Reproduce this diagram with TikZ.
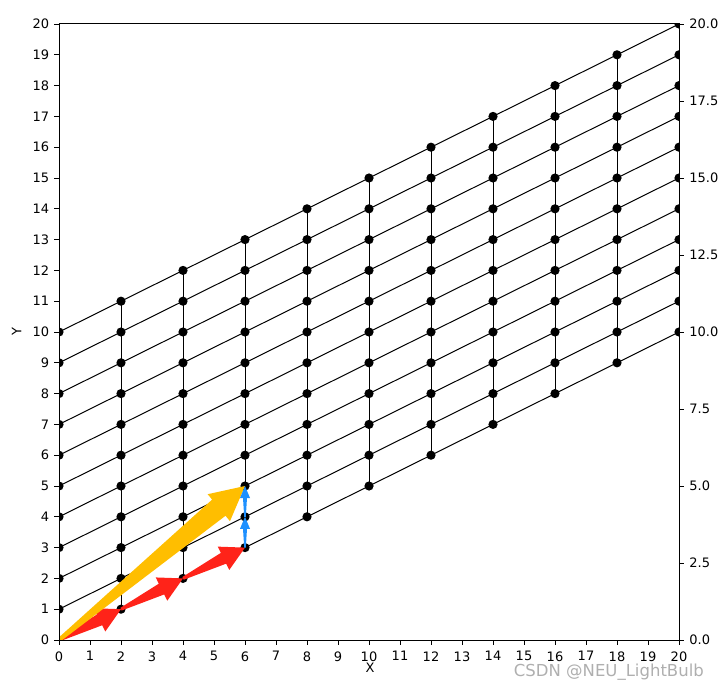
\documentclass[tikz,border=0pt]{standalone}
\usepackage{fontspec}
\setmainfont{DejaVu Sans}
\usetikzlibrary{calc}
\definecolor{arrred}{RGB}{255,35,25}
\definecolor{arrorange}{RGB}{255,190,0}
\definecolor{arrblue}{RGB}{30,144,255}
\definecolor{wmgray}{RGB}{175,175,175}
% #1 colour, #2 from, #3 to, #4 head length, #5 head half width, #6 tail half width at head, #7 tail half width at start
\newcommand\wedgearrow[7]{%
  \coordinate (wj) at ($(#3)!#4!(#2)$);
  \fill[#1] ($(#2)!#7!90:(#3)$) -- ($(wj)!#6!90:(#3)$) -- ($(wj)!#5!90:(#3)$) -- (#3)
    -- ($(wj)!#5!-90:(#3)$) -- ($(wj)!#6!-90:(#3)$) -- ($(#2)!#7!-90:(#3)$) -- cycle;}
\begin{document}
\begin{tikzpicture}[x=1pt,y=1pt,
  latline/.style={line width=1pt, black},
  dotstyle/.style={fill=black},
  ticklab/.style={font=\fontsize{13}{15}\selectfont, inner sep=0pt},
  tickline/.style={line width=0.9pt},
  axlab/.style={font=\fontsize{13}{15}\selectfont, inner sep=0pt}]
\useasboundingbox (0,0) rectangle (719,689);
\begin{scope}[shift={(59,49)}, x=31pt, y=30.8pt]
  \foreach \i in {0,...,10} {\foreach \k in {0,...,10} {\coordinate (p-\i-\k) at ({2*\i},{\i+\k});}}
  \begin{scope}
    \clip (0,0) rectangle (20,20);
    \foreach \k in {0,...,10} {\draw[latline] (p-0-\k) -- (p-10-\k);}
    \foreach \i in {0,...,10} {\draw[latline] (p-\i-0) -- (p-\i-10);}
    \foreach \i in {0,...,10} {\foreach \k in {0,...,10} {\fill[dotstyle] (p-\i-\k) circle[radius=4.6pt];}}
    \wedgearrow{arrred}{p-0-0}{p-1-0}{24pt}{13pt}{6pt}{1.5pt}
    \wedgearrow{arrred}{p-1-0}{p-2-0}{24pt}{13pt}{6pt}{1.5pt}
    \wedgearrow{arrred}{p-2-0}{p-3-0}{24pt}{13pt}{6pt}{1.5pt}
    \wedgearrow{arrorange}{p-0-0}{p-3-2}{34pt}{17.5pt}{10.5pt}{2pt}
    \wedgearrow{arrblue}{p-3-0}{p-3-1}{12pt}{5pt}{2pt}{0.8pt}
    \wedgearrow{arrblue}{p-3-1}{p-3-2}{12pt}{5pt}{2pt}{0.8pt}
  \end{scope}
  \draw[line width=1pt] (0,0) rectangle (20,20);
  \foreach \v in {0,...,20} {
    \draw[tickline] (0,\v) -- ++(-5pt,0) node[ticklab, anchor=east, xshift=-4.5pt] (yl\v) {\v};
    \draw[tickline] (\v,0) -- ++(0,-5pt) node[ticklab, anchor=north, yshift=-6pt] (xl\v) {\v};
  }
  \foreach \v/\t [count=\n] in {0/0.0, 2.5/2.5, 5/5.0, 7.5/7.5, 10/10.0, 12.5/12.5, 15/15.0, 17.5/17.5, 20/20.0} {
    \draw[tickline] (20,\v) -- ++(5pt,0) node[ticklab, anchor=west, xshift=5pt] (rl\n) {\t};
  }
\end{scope}
\node[axlab, rotate=90] (ylab) at (16.7,357) {Y};
\node[axlab] (xlab) at (370,21) {X};
\node[font=\fontsize{16.5}{18}\selectfont, text=wmgray, inner sep=0pt, anchor=base east] (wm) at (704,13) {CSDN @NEU\_LightBulb};
\end{tikzpicture}
\end{document}
